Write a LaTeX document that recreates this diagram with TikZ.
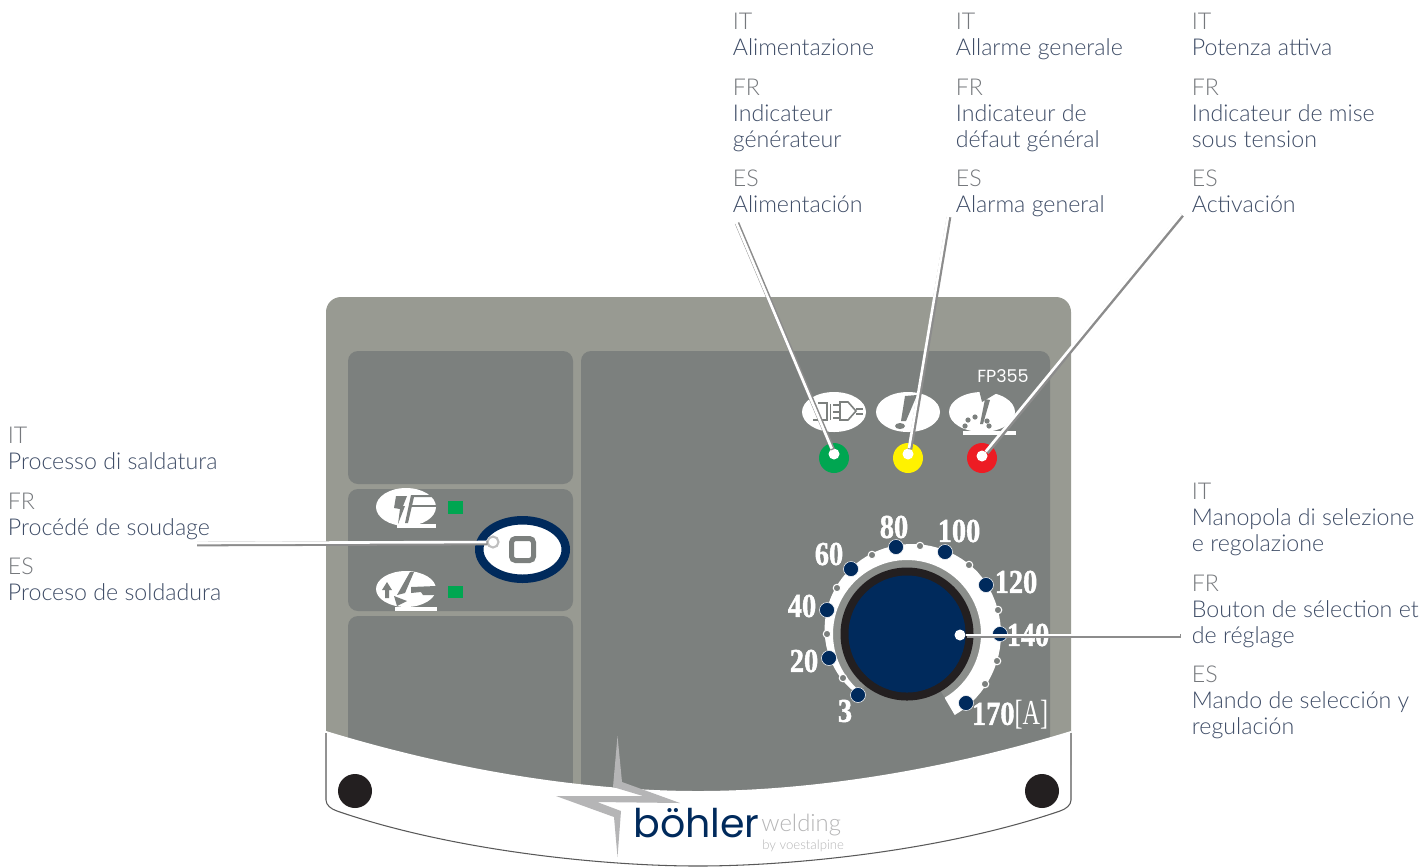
\documentclass[tikz,border=0pt]{standalone}
\usepackage{fontspec}
\setmainfont{Lato}[UprightFont={* Light}]
\newfontfamily\dialfont{Liberation Serif}[BoldFeatures={FakeBold=1.5}]
\newfontfamily\brandfont{Poppins}
\usetikzlibrary{positioning,shapes.geometric}

\definecolor{panelgray}{HTML}{989A92}
\definecolor{innergray}{HTML}{7C807E}
\definecolor{ringgray}{HTML}{8B8E8B}
\definecolor{navy}{HTML}{002A5C}
\definecolor{textblue}{HTML}{3E4C66}
\definecolor{headgray}{HTML}{75787C}
\definecolor{boltgray}{HTML}{B5B5B6}
\definecolor{ledgreen}{HTML}{00A651}
\definecolor{ledyellow}{HTML}{FFF200}
\definecolor{ledred}{HTML}{ED1C24}
\definecolor{darkring}{HTML}{231F20}

\newcommand{\lang}[1]{\textcolor{headgray}{#1}}

\tikzset{
  legend/.style={anchor=north west,inner sep=0pt,text=textblue,font=\fontsize{13.2}{14.75}\selectfont},
  leader/.style={white,line width=1.5pt,preaction={draw=black!45,line width=2.6pt,transform canvas={shift={(.6pt,-.6pt)}}}},
  tipdot/.style={circle,fill=white,inner sep=0pt,minimum size=.22cm},
  led/.style={circle,inner sep=0pt,minimum size=.6cm},
  bigmark/.style={circle,fill=navy,draw=white,line width=.3pt,inner sep=0pt,minimum size=.3cm},
  smallmark/.style={circle,fill=innergray,draw=white,line width=.6pt,inner sep=0pt,minimum size=.15cm},
  dialnum/.style={text=white,inner sep=0pt,xscale=.85,font=\dialfont\bfseries\fontsize{19}{19}\selectfont},
  iconbar/.style={fill=white}
}

\begin{document}
\begin{tikzpicture}[x=.02cm,y=-.02cm]
\useasboundingbox (0,0) rectangle (1419,867);

%% Main plate
\fill[panelgray,rounded corners=.3cm] (326,297) rectangle (1071,780);

%% Inner panels
\fill[innergray,rounded corners=.2cm] (348,351) rectangle (573,484);
\fill[innergray,rounded corners=.2cm] (348,489) rectangle (573,611);
\fill[innergray,rounded corners=.2cm] (348,616) rectangle (573,800);
\fill[innergray,rounded corners=.2cm] (581,351) rectangle (1050,800);
\fill[panelgray] (573,700) rectangle (581,800);

%% White band
\fill[white] (326,731) .. controls (470,775) and (600,791) .. (698,791) .. controls (796,791) and (927,775) .. (1071,731)
  -- (1071,800) .. controls (1071,805) and (1066,809) .. (1060,811)
  .. controls (946,850) and (796,866) .. (698,866) .. controls (600,866) and (450,850) .. (337,811)
  .. controls (331,809) and (326,805) .. (326,800) -- cycle;
\draw[black!65,line width=.6pt] (326,733) -- (326,800) .. controls (326,805) and (331,809) .. (337,811)
  .. controls (450,850) and (600,866) .. (698,866) .. controls (796,866) and (946,850) .. (1060,811)
  .. controls (1066,809) and (1071,805) .. (1071,800) -- (1071,733);

%% Screws
\fill[darkring] (355,791) circle (17);
\fill[darkring] (1042,791) circle (17);

%% Logo
\fill[boltgray] (617.5,736) -- (622,782) -- (680,803) -- (597,802) -- (621,811) -- (617.5,857)
  -- (614,817) -- (556,796) -- (643,796) -- (613,787) -- cycle;
\node[inner sep=0pt,anchor=base west,text=navy] (brandName) at (633,837)
  {\brandfont\fontsize{22.5}{22}\selectfont b\"ohler};
\node[inner sep=0pt,anchor=base west,text=boltgray] (brandWeld) at (761,831)
  {\fontsize{13.6}{13}\selectfont welding};
\node[inner sep=0pt,anchor=base west,text=boltgray] (brandBy) at (762,849)
  {\fontsize{7.5}{7}\selectfont by voestalpine};

%% Model name
\node[text=white,inner sep=0pt] (model) at (1003,376) {\brandfont\fontsize{10}{10}\selectfont FP355};

%% Plug icon
\fill[white] (834,412) ellipse [x radius=32,y radius=20];
\draw[innergray,line width=.9pt] (818,403) -- (827,403) -- (827,420) -- (813,420);
\draw[innergray,line width=1.1pt] (830.5,404) -- (830.5,420);
\draw[innergray,line width=.7pt] (833,405) -- (840,405) (833,412) -- (840,412) (833,418) -- (840,418);
\draw[innergray,line width=.9pt] (840,402) -- (848,402) -- (856,411) -- (848,420) -- (840,420) -- cycle;
\draw[innergray,line width=.9pt] (856,409) -- (863,409) (856,414) -- (863,414);

%% Alarm icon
\fill[white] (908,412) ellipse [x radius=32,y radius=20];
\fill[innergray] (905,396) -- (917,395) -- (906,421) -- (901,421) -- cycle;
\fill[innergray] (900,426) ellipse [x radius=5,y radius=3];

%% Power icon
\fill[white] (982,412) ellipse [x radius=33,y radius=20];
\fill[innergray] (979,390) -- (982,402) -- (992,396) -- (1002,390) -- cycle;
\fill[innergray] (985,399) -- (990,400) -- (983,424) -- (980,424) -- cycle;
\foreach \x/\y in {965/426,968/420,975/417,987/421,989/426}
  \fill[innergray] (\x,\y) circle (2.6);
\fill[iconbar] (963,431) rectangle (1016,435);

%% LEDs
\node[led,fill=ledgreen] (ledGreen) at (834,458) {};
\node[led,fill=ledyellow] (ledYellow) at (908,458) {};
\node[led,fill=ledred] (ledRed) at (982,458) {};

%% Process icons
\fill[white] (406,507) ellipse [x radius=30,y radius=19];
\fill[innergray] (396,496) -- (407,496) -- (403,506) -- (405,506) -- (398,524) -- (400,509) -- (394,508) -- cycle;
\fill[innergray] (411,495) -- (435,495) -- (435,497) -- (414,497) -- (408,523) -- (405,523) -- cycle;
\fill[innergray] (411,505) rectangle (436,507);
\fill[iconbar] (397,524) rectangle (436,528);
\fill[ledgreen] (448,501) rectangle (463,514);

\fill[white] (406,589) ellipse [x radius=30,y radius=18];
\fill[innergray] (387,582) -- (392,590) -- (389,590) -- (389,598) -- (385,598) -- (385,590) -- (382,590) -- cycle;
\fill[innergray] (410,572) -- (414,572) -- (408,586) -- (405,593) -- (397,595) -- cycle;
\fill[innergray] (394,596) -- (407,601) -- (397,606) -- cycle;
\fill[innergray] (411,587) -- (436,586) -- (436,595) -- (423,595) -- (421,592) -- (411,593) -- cycle;
\fill[iconbar] (395,607) rectangle (437,611);
\fill[ledgreen] (448,586) rectangle (463,598);

%% Selection button
\node[ellipse,fill=white,draw=navy,line width=.17cm,inner sep=0pt,minimum width=1.73cm,minimum height=1.17cm] (button) at (522.5,549.5) {};
\node[rectangle,fill=white,draw=innergray,line width=.1cm,rounded corners=.08cm,inner sep=0pt,minimum size=.44cm] (buttonSq) at (522.5,549.5) {};

%% Dial band and knob
\fill[ringgray] (907,634) circle (74);
\fill[white] plot[domain=129:419.5,samples=70] ({907+(78+16*min(1,(\x-129)/190))*cos(\x)},{634+(78+16*min(1,(\x-129)/190))*sin(\x)})
  -- plot[domain=419.5:129,samples=70] ({907+74*cos(\x)},{634+74*sin(\x)}) -- cycle;
\fill[innergray] (907,634) -- ++(59.5:75) arc (59.5:129:75) -- cycle;
\fill[darkring] (907,634) circle (66.5);
\fill[navy] (907,634) circle (58.5);

%% Dial marks
\foreach \x/\y [count=\n] in {858/695,829/658,827/610,851/569,896/547,945/552,986/585,1000/634,966/703}
  \node[bigmark] (mark\n) at (\x,\y) {};
\foreach \x/\y [count=\n] in {843/678,827/634,837/588,872/555,920/546,969/565,998/610,997/661,985/684}
  \node[smallmark] (tick\n) at (\x,\y) {};

%% Dial numbers
\foreach \x/\y/\t in {845/711/3,804/661/20,802/606/40,829/554/60,894/527/80,959/531/100,1016/582/120,1028/635/140}
  \node[dialnum] (num\t) at (\x,\y) {\t};
\node[dialnum] (num170) at (1010,715) {170\scalebox{.85}[1.05]{\textmd{[A]}}};

%% Leader ends
\coordinate (endAlim) at (736,222);
\coordinate (endAlarm) at (948,216);
\coordinate (endPower) at (1181,214);
\coordinate (endButton) at (196,543);
\coordinate (endDial) at (1180,635);

\node[tipdot] (tipAlim) at (834,454) {};
\node[tipdot] (tipAlarm) at (908,454) {};
\node[tipdot] (tipPower) at (982,456) {};
\node[tipdot] (tipDial) at (960,635) {};
\node[circle,fill=white,draw=black!25,line width=1.2pt,inner sep=0pt,minimum size=.22cm] (tipButton) at (493,542) {};

\draw[leader] (endAlim) -- (tipAlim);
\draw[leader] (endAlarm) -- (tipAlarm);
\draw[leader] (endPower) -- (tipPower);
\draw[leader] (endDial) -- (tipDial);
\draw[leader] (endButton) -- (tipButton);

%% Texts
\node[legend] (txtAlim) at (732.5,10.7) {\begin{tabular}{@{}l@{}}
  \lang{IT}\\ Alimentazione\\[8.2pt] \lang{FR}\\ Indicateur\\ g\'en\'erateur\\[7.4pt] \lang{ES}\\ Alimentaci\'on
\end{tabular}};
\node[legend] (txtAlarm) at (955.5,10.7) {\begin{tabular}{@{}l@{}}
  \lang{IT}\\ Allarme generale\\[8.2pt] \lang{FR}\\ Indicateur de\\ d\'efaut g\'en\'eral\\[7.4pt] \lang{ES}\\ Alarma general
\end{tabular}};
\node[legend] (txtPower) at (1191.5,10.7) {\begin{tabular}{@{}l@{}}
  \lang{IT}\\ Potenza attiva\\[8.2pt] \lang{FR}\\ Indicateur de mise\\ sous tension\\[7.4pt] \lang{ES}\\ Activaci\'on
\end{tabular}};
\node[legend] (txtButton) at (7.5,424.7) {\begin{tabular}{@{}l@{}}
  \lang{IT}\\ Processo di saldatura\\[8.2pt] \lang{FR}\\ Proc\'ed\'e de soudage\\[7.4pt] \lang{ES}\\ Proceso de soldadura
\end{tabular}};
\node[legend] (txtDial) at (1191.5,481.3) {\begin{tabular}{@{}l@{}}
  \lang{IT}\\ Manopola di selezione\\ e regolazione\\[8.2pt] \lang{FR}\\ Bouton de s\'election et\\ de r\'eglage\\[7.4pt] \lang{ES}\\ Mando de selecci\'on y\\ regulaci\'on
\end{tabular}};
\end{tikzpicture}
\end{document}
